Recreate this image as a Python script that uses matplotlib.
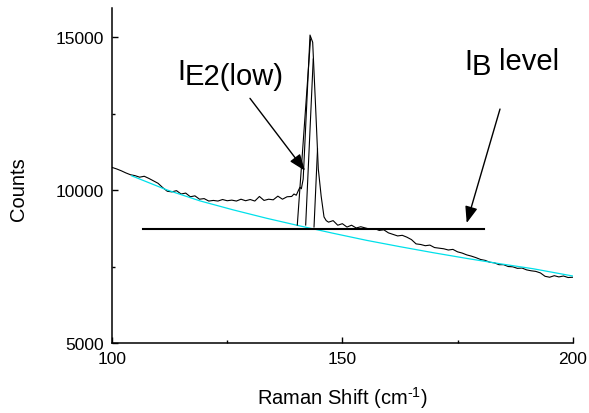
import matplotlib
matplotlib.use("Agg")
import matplotlib.pyplot as plt

plt.rcParams['font.family'] = ['Liberation Sans', 'DejaVu Sans']
plt.rcParams['mathtext.fontset'] = 'custom'
plt.rcParams['mathtext.rm'] = 'Liberation Sans'

# Measured Raman spectrum (black)
shift = [100, 101, 102, 103, 104, 105, 106, 107, 108, 109, 110, 111, 112, 113, 114,
         115, 116, 117, 118, 119, 120, 121, 122, 123, 124, 125, 126, 127, 128, 129,
         130, 131, 132, 133, 134, 135, 136, 137, 138, 139, 139.5, 140, 140.5, 140.8,
         141.1, 141.5, 142.98, 143.56, 144.2, 144.78, 145.4, 146.02, 146.5, 147, 148,
         149, 150, 151, 152, 153, 154, 155, 156, 157, 158, 159, 160, 161, 162, 163,
         164, 165, 166, 167, 168, 169, 170, 171, 172, 173, 174, 175, 176, 177, 178,
         179, 180, 181, 182, 183, 184, 185, 186, 187, 188, 189, 190, 191, 192, 193,
         194, 195, 196, 197, 198, 199, 200]
counts = [10740, 10690, 10630, 10560, 10500, 10470, 10420, 10450, 10380, 10300, 10220,
          10080, 9960, 9940, 9980, 9870, 9900, 9780, 9810, 9700, 9720, 9640, 9660, 9640,
          9690, 9650, 9670, 9640, 9700, 9650, 9690, 9640, 9790, 9660, 9700, 9680, 9800,
          9700, 9780, 9790, 9870, 9830, 10000, 10090, 10040, 10360, 15066, 14830, 12700,
          10690, 9800, 9120, 9000, 8950, 9000, 8850, 8900, 8790, 8850, 8760, 8800, 8760,
          8720, 8740, 8680, 8700, 8600, 8550, 8500, 8520, 8460, 8380, 8240, 8220, 8180,
          8200, 8120, 8100, 8080, 8040, 8060, 7980, 7940, 7880, 7840, 7790, 7730, 7700,
          7640, 7620, 7560, 7560, 7500, 7490, 7440, 7450, 7390, 7360, 7340, 7290, 7180,
          7150, 7200, 7160, 7190, 7140, 7150]

# Fitted background (cyan)
bg_shift = [104.27, 111.87, 119.10, 126.34, 133.57, 140.81, 148.05, 155.28, 162.52,
            169.75, 176.99, 184.23, 191.46, 200.0]
bg_counts = [10465, 10006, 9645, 9350, 9077, 8826, 8585, 8355, 8148, 7951, 7765, 7590,
             7426, 7190]

# I_B level line
ib_level = 8716
ib_x = [106.8, 180.8]

# Hatch lines under the E2(low) peak
hatch_x = [[140.22, 143.09], [142.04, 143.68], [143.85, 144.61]]
hatch_y = [[8856, 14935], [8856, 14281], [8791, 11340]]

x_ticks = [100, 150, 200]
y_ticks = [5000, 10000, 15000]

fig = plt.figure(figsize=(5.89, 4.14), dpi=100)
ax = fig.add_axes([112/589, 1 - 344/414, (572.7-112)/589, (344-9)/414])

ax.plot(shift, counts, color='black', lw=0.8)
ax.plot(bg_shift, bg_counts, color='#00e0ea', lw=0.9)
ax.plot(ib_x, [ib_level, ib_level], color='black', lw=1.5)
for hx, hy in zip(hatch_x, hatch_y):
    ax.plot(hx, hy, color='black', lw=0.8)

ax.set_xlim(100, 200)
ax.set_ylim(5000, 15950)
ax.set_xticks(x_ticks)
ax.set_yticks(y_ticks)
ax.set_xticks([125, 175], minor=True)
ax.set_yticks([7500, 12500], minor=True)
ax.tick_params(which='major', direction='in', length=4.3, width=1.0, labelsize=12.5,
               pad=6)
ax.tick_params(which='minor', direction='in', length=2.5, width=1.0)
for s in ['top', 'right']:
    ax.spines[s].set_visible(False)
for s in ['left', 'bottom']:
    ax.spines[s].set_linewidth(1.1)

fig.text(342/589, 1 - 398/414, r'Raman Shift (cm$^{\text{-1}}$)', ha='center',
         va='center', fontsize=14.5)
fig.text(18.5/589, 1 - 189/414, 'Counts', ha='center', va='center', rotation=90,
         fontsize=14.5)

fs = 21
ax.text(114.2, 13628, 'I', fontsize=fs, ha='left', va='baseline')
ax.text(115.7, 13464, 'E2(low)', fontsize=fs, ha='left', va='baseline')
ax.text(176.4, 13954, 'I', fontsize=fs, ha='left', va='baseline')
ax.text(178.1, 13791, 'B', fontsize=fs, ha='left', va='baseline')
ax.text(184.0, 13954, 'level', fontsize=fs, ha='left', va='baseline')

arrow = dict(arrowstyle='-|>,head_length=1.0,head_width=0.38', color='black', lw=1.0,
             shrinkA=0, shrinkB=0)
ax.annotate('', xy=(141.89, 10631), xytext=(129.95, 12997), arrowprops=arrow)
ax.annotate('', xy=(176.99, 8922), xytext=(184.22, 12647), arrowprops=arrow)

fig.savefig('out.png', dpi=100)
